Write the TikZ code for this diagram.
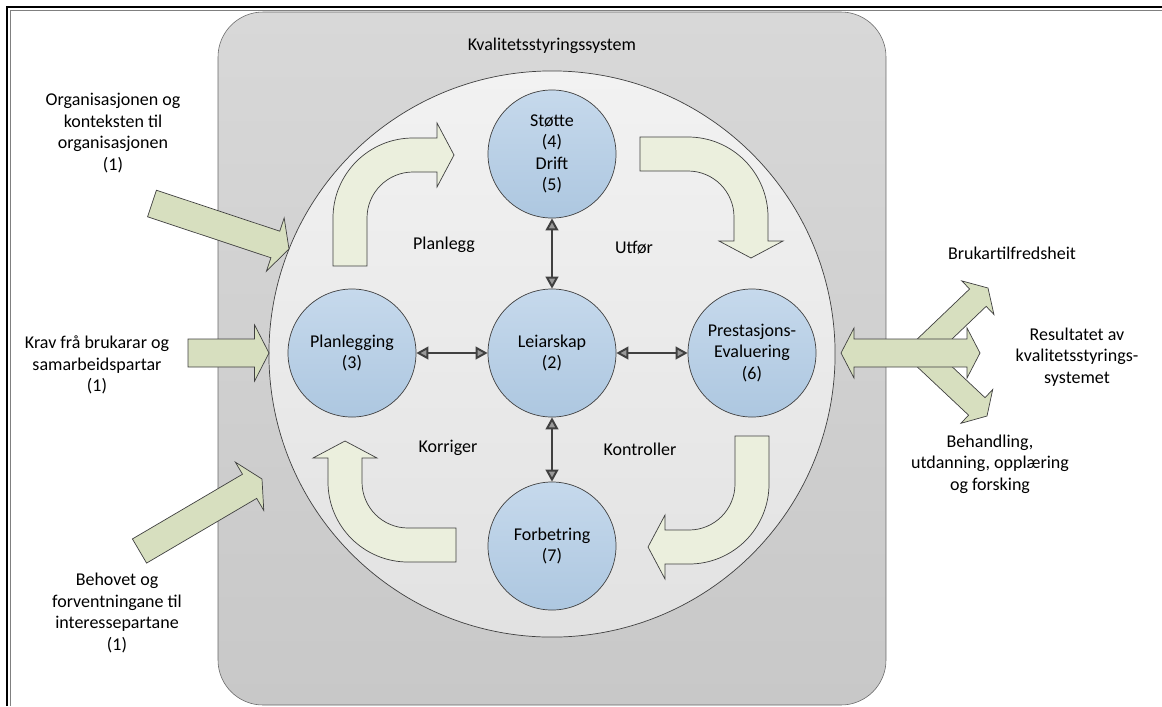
\documentclass[tikz,border=0pt]{standalone}
\usepackage{fontspec}
\setmainfont{Carlito}
\usetikzlibrary{calc,arrows.meta}
\definecolor{rimgrey}{HTML}{404040}
\definecolor{boxtop}{HTML}{D8D8D8}
\definecolor{boxbot}{HTML}{C8C8C8}
\definecolor{circtop}{HTML}{F2F2F2}
\definecolor{circbot}{HTML}{E2E2E2}
\definecolor{bluetop}{HTML}{C6D9EC}
\definecolor{bluebot}{HTML}{ADC7E0}
\definecolor{ingreen}{HTML}{D7DFBF}
\definecolor{cycgreen}{HTML}{EBEFDD}
\tikzset{
  lbl/.style={font=\fontsize{12.8}{15.2}\selectfont, align=center},
  stage/.style={circle, draw=rimgrey, line width=0.5pt, top color=bluetop, bottom color=bluebot, minimum size=3.2cm, inner sep=0pt, lbl},
  link/.style={draw=rimgrey, line width=1.4pt, {Triangle[length=8.5pt,width=9pt,fill=gray!80]}-{Triangle[length=8.5pt,width=9pt,fill=gray!80]}},
  inarrow/.style={draw=rimgrey, line width=0.5pt, fill=ingreen},
  cycarrow/.style={draw=rimgrey, line width=0.5pt, fill=cycgreen},
}
\newcommand{\blockarrow}[5]{%
  \coordinate (bah) at ($(#2)!#5!(#1)$);
  \draw[inarrow] ($(#1)!#3!90:(#2)$) -- ($(bah)!#3!-90:(#1)$) -- ($(bah)!#4!-90:(#1)$) -- (#2)
    -- ($(bah)!#4!90:(#1)$) -- ($(bah)!#3!90:(#1)$) -- ($(#1)!#3!-90:(#2)$) -- cycle;}
\newcommand{\cyclearrow}[3]{%
  \draw[cycarrow, shift={(#1,#2)}, rotate=#3] (-80,48) -- (-80,0) arc[start angle=180, end angle=270, radius=80]
    -- (24,-80) -- (24,-95) -- (41,-63) -- (24,-31) -- (24,-46) -- (0,-46)
    arc[start angle=270, end angle=180, radius=46] -- (-46,48) -- cycle;}
\begin{document}
\begin{tikzpicture}[x=0.025cm,y=-0.025cm]
\useasboundingbox (0,0) rectangle (1162,706);
\draw[line width=1.3pt] (7,706) -- (7,7) -- (1162,7);
\draw[gray, line width=0.6pt] (10,706) -- (10,10) -- (1162,10);
\draw[draw=rimgrey!80, top color=boxtop, bottom color=boxbot, rounded corners=1.125cm] (218,12) rectangle (886,705);
\node[lbl] (title) at (552,46) {Kvalitetsstyringssystem};
\node[circle, draw=rimgrey, line width=0.5pt, top color=circtop, bottom color=circbot, minimum size=14.15cm, inner sep=0pt] (pdca) at (552,354) {};
\cyclearrow{413}{218}{0}
\cyclearrow{688}{217}{-90}
\cyclearrow{689}{484}{180}
\cyclearrow{408}{482}{90}
\node[lbl] (planlegg) at (444,245) {Planlegg};
\node[lbl] (utfor) at (634,248) {Utfør};
\node[lbl] (kontroller) at (640,449) {Kontroller};
\node[lbl] (korriger) at (448,448) {Korriger};
\node[stage] (stotte) at (552,154) {Støtte\\(4)\\Drift\\(5)};
\node[stage] (plan) at (352,353) {Planlegging\\(3)};
\node[stage] (leiar) at (552,353) {Leiarskap\\(2)};
\node[stage] (evaluering) at (752,353) {Prestasjons-\\Evaluering\\(6)};
\node[stage] (forbetring) at (552,546) {Forbetring\\(7)};
\draw[link] (stotte) -- (leiar);
\draw[link] (plan) -- (leiar);
\draw[link] (leiar) -- (evaluering);
\draw[link] (leiar) -- (forbetring);
\node[lbl] (org) at (113,133) {Organisasjonen og\\konteksten til\\organisasjonen\\(1)};
\node[lbl] (krav) at (97,365) {Krav frå brukarar og\\samarbeidspartar\\(1)};
\node[lbl] (behov) at (117,613) {Behovet og\\forventningane til\\interessepartane\\(1)};
\coordinate (orgtail) at (152,203.5);
\coordinate (orgtip) at (289,249);
\coordinate (kravtail) at (188,353);
\coordinate (kravtip) at (269,353);
\coordinate (behovtail) at (139.5,551);
\coordinate (behovtip) at (262,479);
\blockarrow{orgtail}{orgtip}{0.35cm}{0.7cm}{0.36cm}
\blockarrow{kravtail}{kravtip}{0.35cm}{0.7cm}{0.36cm}
\blockarrow{behovtail}{behovtip}{0.35cm}{0.7cm}{0.36cm}
\coordinate (hub) at (920,353);
\coordinate (bruktip) at (988,288);
\coordinate (behtip) at (987,416);
\blockarrow{hub}{bruktip}{0.3cm}{0.58cm}{0.35cm}
\blockarrow{hub}{behtip}{0.3cm}{0.58cm}{0.35cm}
\draw[inarrow] (841,353) -- (854,328) -- (854,339) -- (967,339) -- (967,328) -- (980,353)
  -- (967,378) -- (967,367) -- (854,367) -- (854,378) -- cycle;
\node[lbl] (bruker) at (1012,253) {Brukartilfredsheit};
\node[lbl] (resultat) at (1077,357) {Resultatet av\\kvalitetsstyrings-\\systemet};
\node[lbl] (behandling) at (990,464) {Behandling,\\utdanning, opplæring\\og forsking};
\end{tikzpicture}
\end{document}
